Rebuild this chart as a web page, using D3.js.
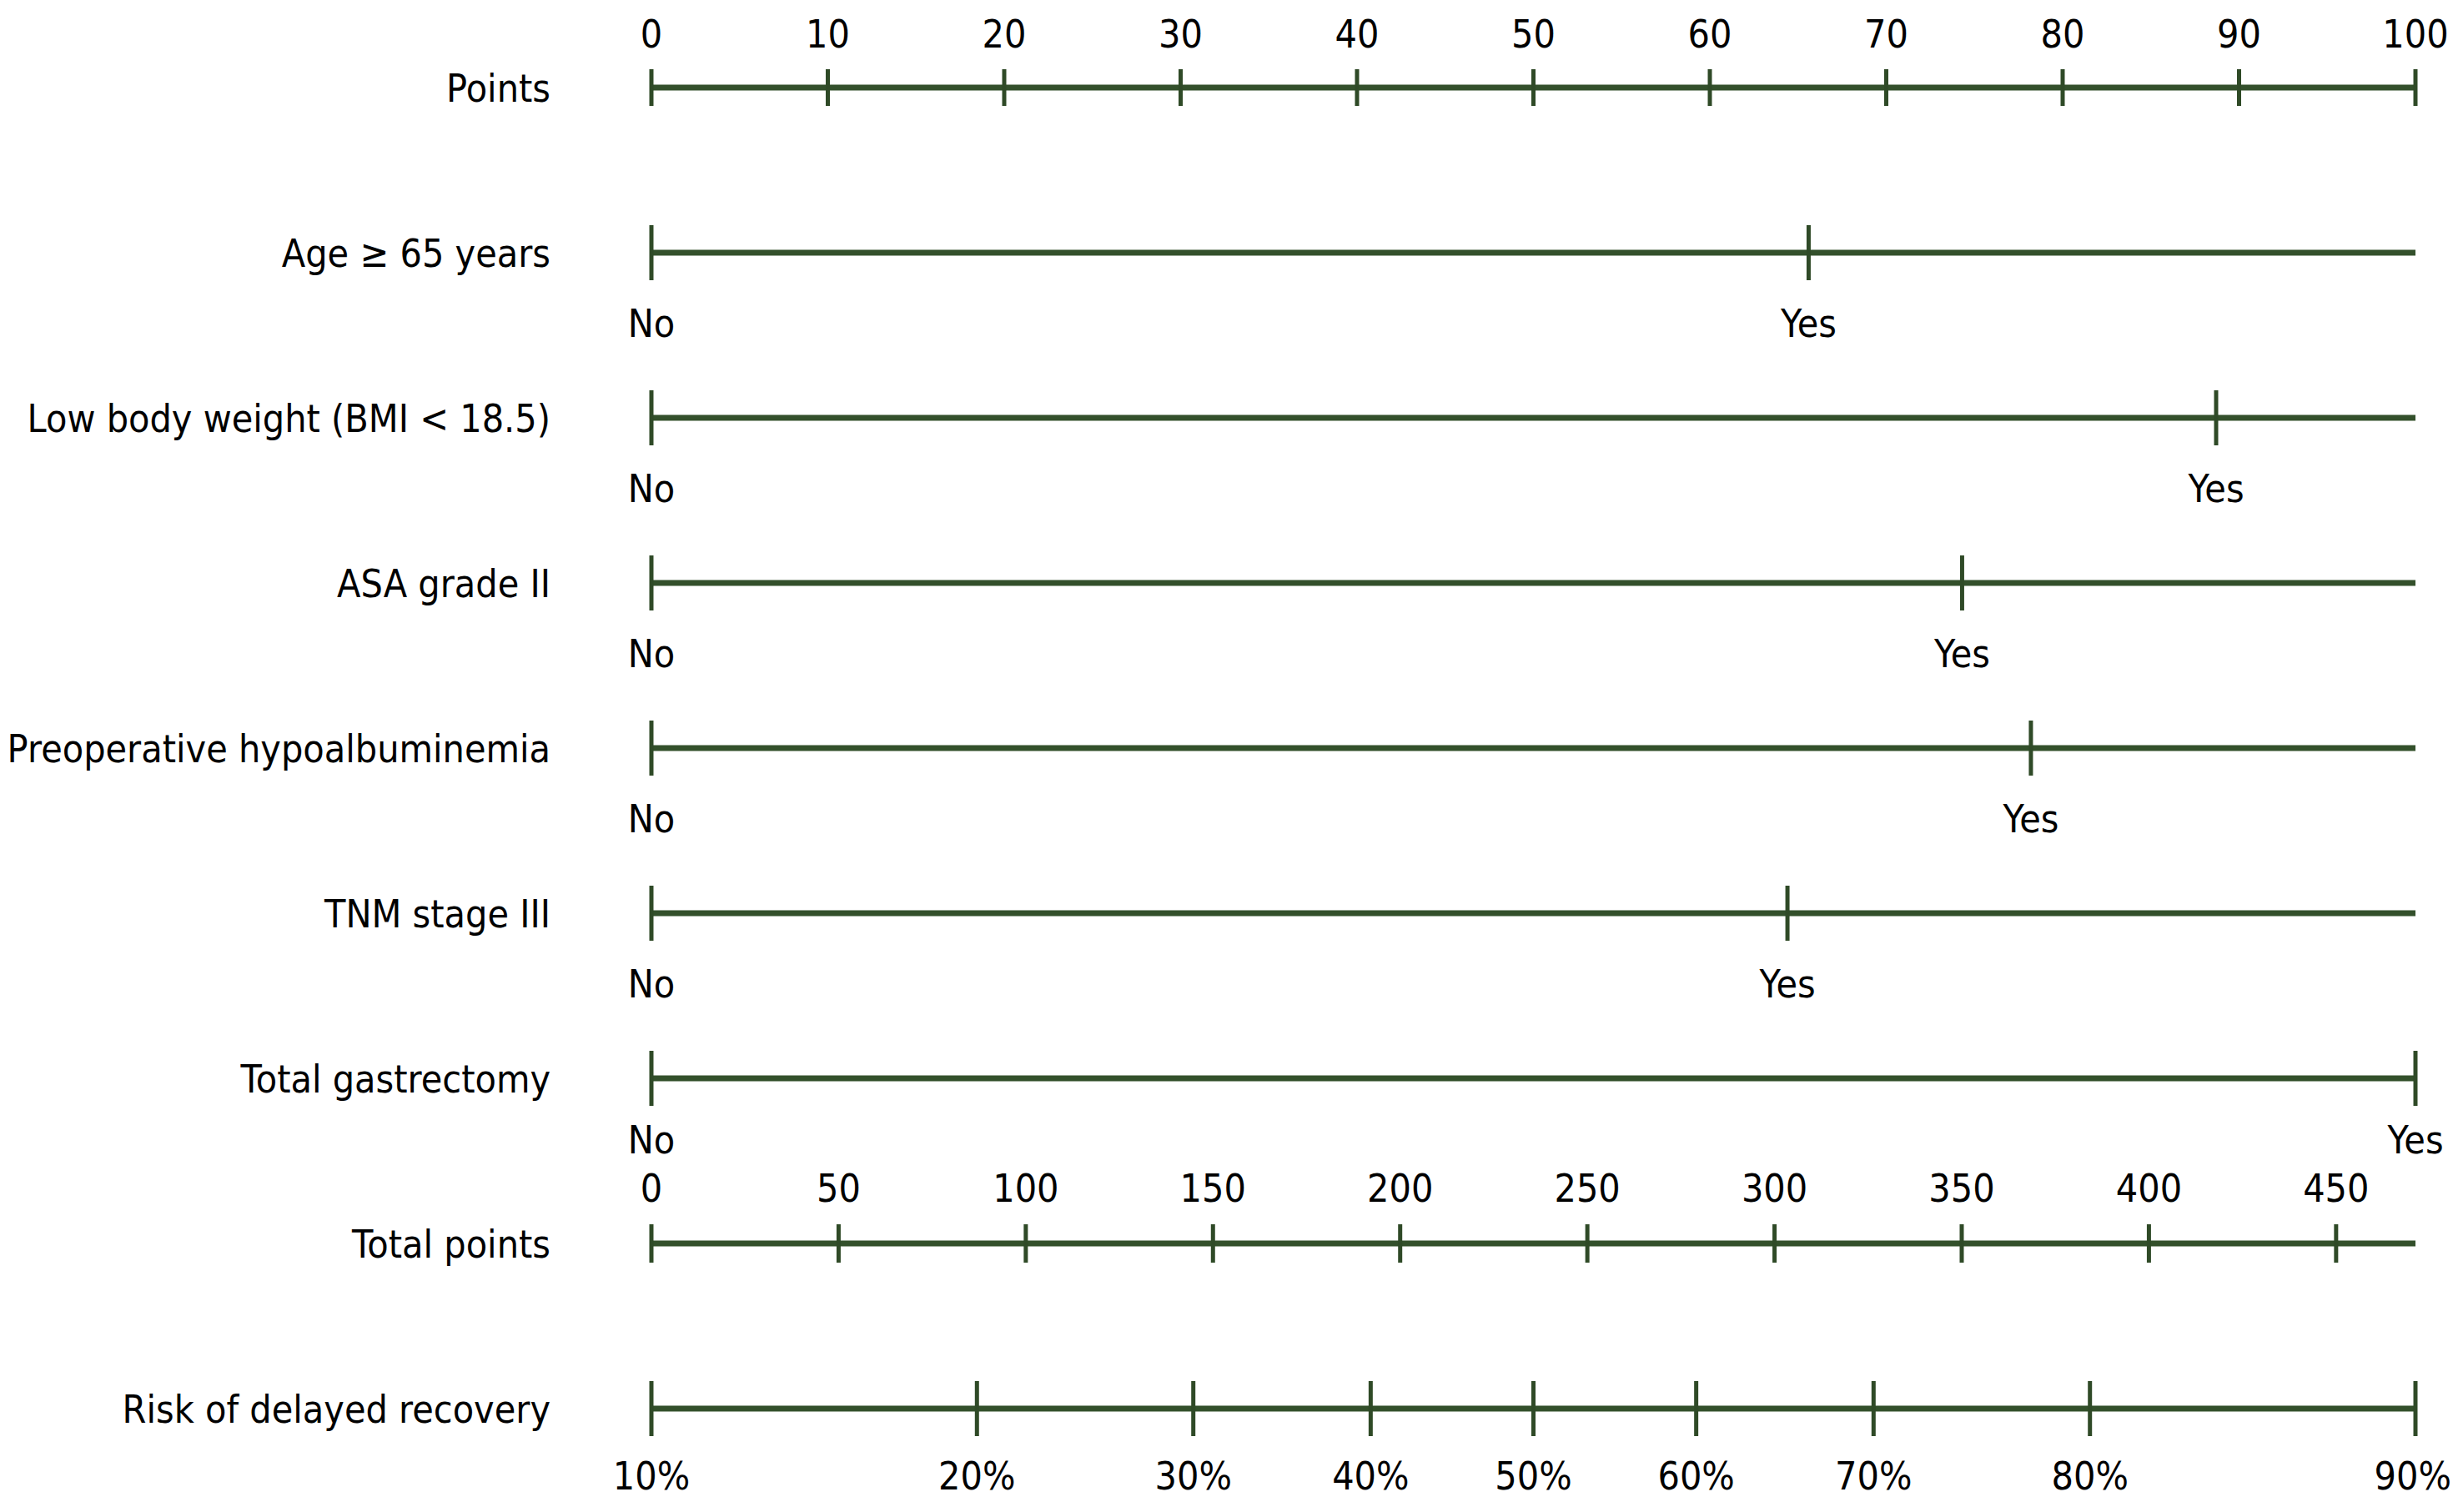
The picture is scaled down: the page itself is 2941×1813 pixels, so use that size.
<!DOCTYPE html>
<html lang="en">
<head>
    <meta charset="UTF-8">
    <script src="https://cdn.jsdelivr.net/npm/d3@7"></script>
    <title>Nomogram</title>
    <style>
        html, body { margin: 0; padding: 0; background: #fff; }
        text {
            font-family: "DejaVu Sans", Verdana, sans-serif;
            font-size: 47px;
            fill: #000;
        }
        .axisline { stroke: #33502b; stroke-width: 7; stroke-linecap: butt; }
        .tick { stroke: #2f4a27; stroke-width: 5; }
    </style>
</head>
<body>
    <script>
        // rows of the nomogram, top to bottom
        const rowNames = ["Points", "Age \u2265 65 years", "Low body weight (BMI < 18.5)", "ASA grade II",
            "Preoperative hypoalbuminemia", "TNM stage III", "Total gastrectomy", "Total points",
            "Risk of delayed recovery"]
        // predictor rows and the points for "Yes" (No = 0)
        const predictors = ["Age \u2265 65 years", "Low body weight (BMI < 18.5)", "ASA grade II",
            "Preoperative hypoalbuminemia", "TNM stage III", "Total gastrectomy"]
        const yesPoints = [65.6, 88.7, 74.3, 78.2, 64.4, 100]
        const pointTicks = [0, 10, 20, 30, 40, 50, 60, 70, 80, 90, 100]
        const totalTicks = [0, 50, 100, 150, 200, 250, 300, 350, 400, 450]
        const totalMax = 471.2
        const riskTicks = [0.1, 0.2, 0.3, 0.4, 0.5, 0.6, 0.7, 0.8, 0.9]

        const width = 2941, height = 1813
        const x0 = 781, x1 = 2896
        const sx = 0.885  // text is narrower than DejaVu

        const svg = d3.select("body").append("svg")
            .attr("width", width)
            .attr("height", height)

        const y = d3.scalePoint().domain(rowNames).range([105, 1689])
        const xPts = d3.scaleLinear().domain([0, 100]).range([x0, x1])
        const xTot = d3.scaleLinear().domain([0, totalMax]).range([x0, x1])
        const logit = p => Math.log(p / (1 - p))
        const xRisk = d3.scaleLinear().domain([logit(0.1), logit(0.9)]).range([x0, x1])

        function label(g, txt, x, yy, anchor) {
            // keep labels inside the page at the right edge
            const t = g.append("text")
                .attr("text-anchor", anchor)
                .text(txt)
            t.attr("transform", `translate(${x},${yy}) scale(${sx},1)`)
            const w = t.node().getComputedTextLength() * sx
            if (anchor === "middle" && x + w / 2 > width - 2) {
                t.attr("text-anchor", "end")
                    .attr("transform", `translate(${width - 2},${yy}) scale(${sx},1)`)
            }
        }

        // row titles
        rowNames.forEach(r => label(svg, r, 660, y(r) + 17, "end"))

        function hline(yy) {
            svg.append("line").attr("class", "axisline")
                .attr("x1", x0).attr("x2", x1).attr("y1", yy).attr("y2", yy)
        }
        function ticks(xs, yy, half) {
            svg.append("g").selectAll("line")
                .data(xs)
                .join("line")
                .attr("class", "tick")
                .attr("x1", d => d).attr("x2", d => d)
                .attr("y1", yy - half).attr("y2", yy + half)
        }

        // Points axis
        let yy = y("Points")
        hline(yy)
        ticks(pointTicks.map(xPts), yy, 22)
        pointTicks.forEach(t => label(svg, t, xPts(t), yy - 48, "middle"))

        // binary predictors
        predictors.forEach((p, i) => {
            const yr = y(p)
            hline(yr)
            ticks([xPts(0), xPts(yesPoints[i])], yr, 33)
            const off = p === "Total gastrectomy" ? 90 : 101
            label(svg, "No", xPts(0), yr + off, "middle")
            label(svg, "Yes", xPts(yesPoints[i]), yr + off, "middle")
        })

        // Total points axis
        yy = y("Total points")
        hline(yy)
        ticks(totalTicks.map(xTot), yy, 23)
        totalTicks.forEach(t => label(svg, t, xTot(t), yy - 50, "middle"))

        // Risk axis
        yy = y("Risk of delayed recovery")
        hline(yy)
        ticks(riskTicks.map(p => xRisk(logit(p))), yy, 33)
        riskTicks.forEach(p => label(svg, Math.round(p * 100) + "%", xRisk(logit(p)), yy + 97, "middle"))
    </script>
</body>
</html>
